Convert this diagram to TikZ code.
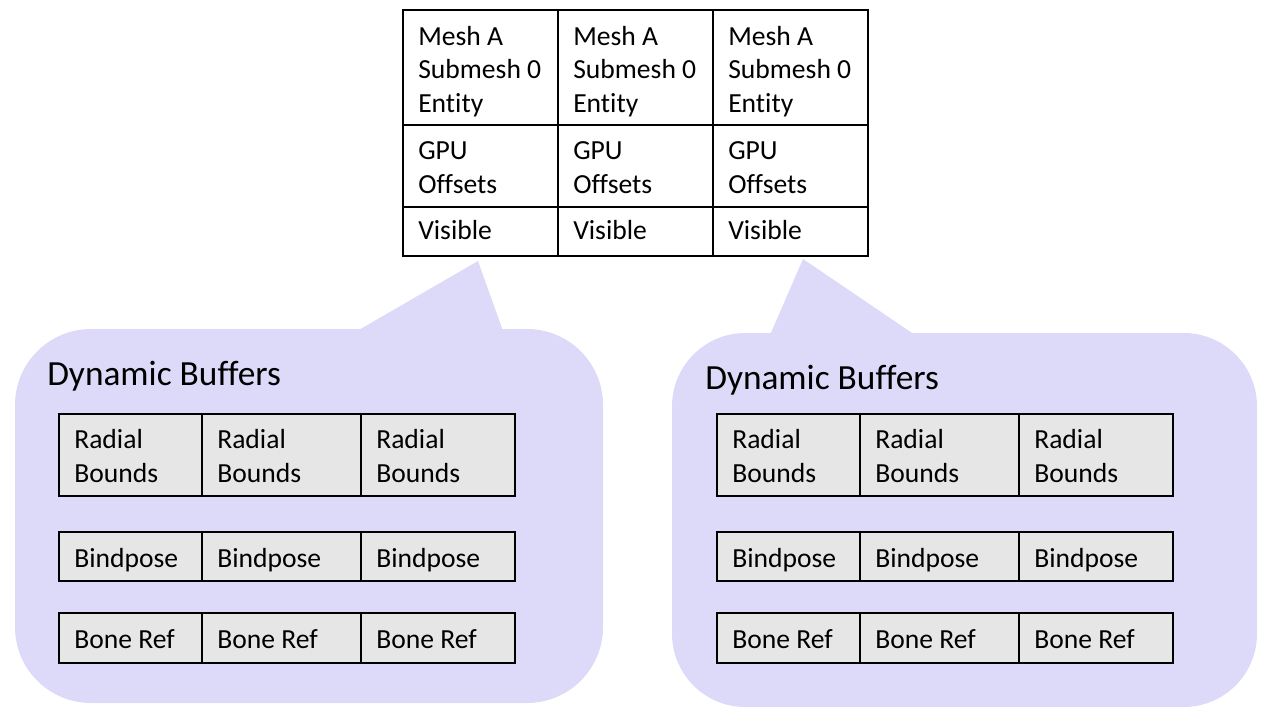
\documentclass[tikz,border=0pt]{standalone}
\usepackage{fontspec}
\setmainfont{Carlito}[Ligatures=NoCommon]
\definecolor{lav}{RGB}{221,217,248}
\definecolor{cellgray}{RGB}{230,230,230}
\begin{document}
\begin{tikzpicture}[x=0.75pt,y=-0.75pt,
  txt/.style={anchor=base west, inner sep=0pt, font=\fontsize{20.7}{25}\selectfont},
  ttl/.style={anchor=base west, inner sep=0pt, font=\fontsize{26.5}{31}\selectfont},
  grid/.style={draw=black, line width=1.4pt},
  bubble/.style={fill=lav, draw=none}]
\useasboundingbox (0,0) rectangle (1270,725);

% callout bubbles
\fill[bubble, rounded corners=57] (15,329) rectangle (603,703);
\fill[bubble] (357,331) -- (478,261) -- (503,331) -- cycle;
\fill[bubble, rounded corners=55] (672,333) rectangle (1257,707);
\fill[bubble] (770,335) -- (803,259) -- (915,335) -- cycle;

% top table
\draw[grid] (403,10) rectangle (868,256);
\draw[grid] (403,125) -- (868,125) (403,207) -- (868,207);
\draw[grid] (558,10) -- (558,256) (713,10) -- (713,256);
\foreach \cx/\c in {403/1,558/2,713/3}{
  \node[txt] (mesh\c) at (\cx+15,45) {Mesh A};
  \node[txt] (sub\c) at (\cx+15,78.5) {Submesh 0};
  \node[txt] (ent\c) at (\cx+15,112) {Entity};
  \node[txt] (gpu\c) at (\cx+15,159) {GPU};
  \node[txt] (off\c) at (\cx+15,193) {Offsets};
  \node[txt] (vis\c) at (\cx+15,239) {Visible};
}

% buffer tables
\foreach \ox/\s/\ty in {59/L/385,717/R/389}{
  \node[ttl] (\s-title) at (\ox-12,\ty) {Dynamic Buffers};
  \foreach \ya/\yb in {414/496,532/581,613/663}{
    \filldraw[grid, fill=cellgray] (\ox,\ya) rectangle (\ox+456,\yb);
    \draw[grid] (\ox+143,\ya) -- (\ox+143,\yb) (\ox+302,\ya) -- (\ox+302,\yb);
  }
  \foreach \cx/\c in {0/1,143/2,302/3}{
    \node[txt] (\s-rad\c) at (\ox+\cx+15,448) {Radial};
    \node[txt] (\s-bnd\c) at (\ox+\cx+15,482) {Bounds};
    \node[txt] (\s-bind\c) at (\ox+\cx+15,567) {Bindpose};
    \node[txt] (\s-bone\c) at (\ox+\cx+15,648) {Bone Ref};
  }
}
\end{tikzpicture}
\end{document}
